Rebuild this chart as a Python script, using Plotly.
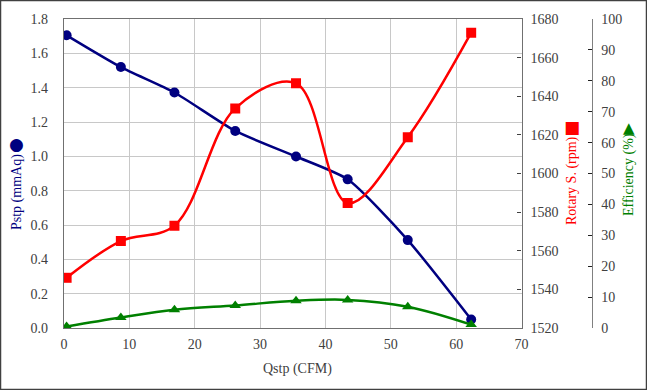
import plotly.graph_objects as go

# ---- data ----
qstp = [0.4, 8.7, 16.9, 26.2, 35.5, 43.4, 52.6, 62.3]
pstp = [1.705, 1.52, 1.372, 1.148, 0.999, 0.866, 0.512, 0.05]
rotary = [1546, 1565, 1573, 1633.7, 1646.7, 1584.7, 1618.8, 1672.9]
efficiency = [0.5, 3.4, 5.9, 7.3, 8.8, 9.1, 6.9, 1.1]

x_ticks = [0, 10, 20, 30, 40, 50, 60, 70]

W, H = 647, 390
ML, MR, MT, MB = 64, 30, 19, 62
PW = W - ML - MR
PH = H - MT - MB
plot_right_px = 521.5
eff_axis_px = 592.3

xdom_end = (plot_right_px - ML) / PW
eff_pos = (eff_axis_px - ML) / PW

FONT = "Liberation Serif, Times New Roman, serif"
TICKC = "#404040"
NAVY = "#000080"
RED = "#FF0000"
GREEN = "#008000"

fig = go.Figure()
fig.add_trace(go.Scatter(x=qstp, y=pstp, mode="lines+markers", name="Pstp",
                         line=dict(color=NAVY, width=2.5, shape="spline", smoothing=0.6),
                         marker=dict(symbol="circle", size=10, color=NAVY),
                         yaxis="y"))
fig.add_trace(go.Scatter(x=qstp, y=rotary, mode="lines+markers", name="Rotary S.",
                         line=dict(color=RED, width=2.5, shape="spline", smoothing=1),
                         marker=dict(symbol="square", size=10, color=RED),
                         yaxis="y2"))
fig.add_trace(go.Scatter(x=qstp, y=efficiency, mode="lines+markers", name="Efficiency",
                         line=dict(color=GREEN, width=2.5, shape="spline", smoothing=1),
                         marker=dict(symbol="triangle-up", size=10, color=GREEN),
                         yaxis="y3"))

def px_to_paper_x(px):
    return (px - ML) / PW

def px_to_paper_y(py):
    return (H - MB - py) / PH

fig.update_layout(
    width=W, height=H,
    margin=dict(l=ML, r=MR, t=MT, b=MB, pad=0, autoexpand=False),
    paper_bgcolor="white", plot_bgcolor="white",
    showlegend=False,
    font=dict(family=FONT, size=14, color=TICKC),
    xaxis=dict(domain=[0, xdom_end], range=[0, 70], tickvals=x_ticks, automargin=False,
               showgrid=True, gridcolor="#c8c8c8", gridwidth=1.2,
               showline=True, linecolor="#707070", linewidth=1.3, mirror=True,
               ticks="", ticklabelstandoff=3, zeroline=False,
               tickfont=dict(family=FONT, size=14, color=TICKC)),
    yaxis=dict(range=[0, 1.8], dtick=0.2, tickformat=".1f", automargin=False,
               showgrid=True, gridcolor="#c8c8c8", gridwidth=1.2,
               showline=True, linecolor="#707070", linewidth=1.3,
               ticks="", ticklabelstandoff=12, zeroline=False,
               tickfont=dict(family=FONT, size=14, color=TICKC)),
    yaxis2=dict(overlaying="y", side="right", anchor="x", range=[1520, 1680], dtick=20,
                automargin=False,
                showgrid=False, zeroline=False, showline=True, linecolor="#707070", linewidth=1.3,
                ticks="inside", ticklen=4, tickcolor="#404040", ticklabelstandoff=5,
                tickfont=dict(family=FONT, size=14, color=TICKC)),
    yaxis3=dict(overlaying="y", side="right", anchor="free", position=eff_pos,
                range=[0, 100], dtick=10, automargin=False,
                showgrid=False, zeroline=False, showline=True, linecolor="#808080", linewidth=1.3,
                ticks="inside", ticklen=4, tickcolor="#202020", ticklabelstandoff=5,
                tickfont=dict(family=FONT, size=14, color=TICKC)),
)

annos = [
    dict(text="Qstp (CFM)", x=px_to_paper_x(297), y=px_to_paper_y(369),
         font=dict(family=FONT, size=14, color=TICKC), textangle=0),
    dict(text="Pstp (mmAq)", x=px_to_paper_x(17), y=px_to_paper_y(192),
         font=dict(family=FONT, size=14, color=NAVY), textangle=-90),
    dict(text="Rotary S. (rpm)", x=px_to_paper_x(572), y=px_to_paper_y(181),
         font=dict(family=FONT, size=14, color=RED), textangle=-90),
    dict(text="Efficiency (%)", x=px_to_paper_x(629), y=px_to_paper_y(175),
         font=dict(family=FONT, size=14, color=GREEN), textangle=-90),
    dict(text="●", x=px_to_paper_x(16.7), y=px_to_paper_y(144),
         font=dict(family="DejaVu Sans", size=17, color=NAVY)),
    dict(text="■", x=px_to_paper_x(571.7), y=px_to_paper_y(126.7),
         font=dict(family="DejaVu Sans", size=17, color=RED)),
    dict(text="▲", x=px_to_paper_x(629), y=px_to_paper_y(127.7),
         font=dict(family="DejaVu Sans", size=15, color=GREEN)),
]
for a in annos:
    fig.add_annotation(xref="paper", yref="paper", showarrow=False,
                       xanchor="center", yanchor="middle", **a)

# outer frame
fig.add_shape(type="rect", xref="paper", yref="paper",
              x0=px_to_paper_x(0.5), x1=px_to_paper_x(W - 0.5),
              y0=px_to_paper_y(H - 0.5), y1=px_to_paper_y(0.5),
              line=dict(color="#404040", width=1.5), fillcolor="rgba(0,0,0,0)")

fig.write_html("out.html", config={"displayModeBar": False},
               post_script="document.body.style.margin='0';document.body.style.padding='0';document.body.style.overflow='hidden';")
